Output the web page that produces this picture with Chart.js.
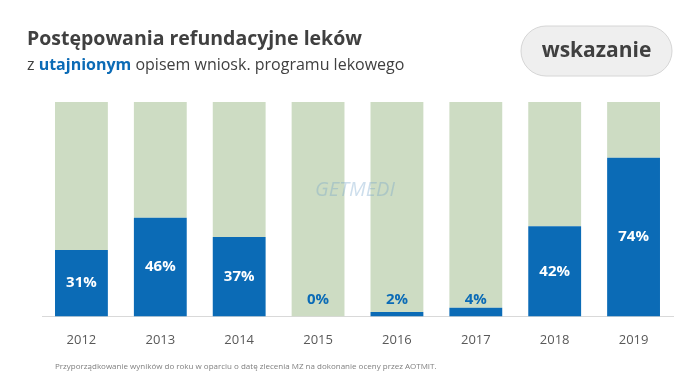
<!DOCTYPE html>
<html>
<head>
<meta charset="utf-8">
<script src="https://cdn.jsdelivr.net/npm/chart.js@4"></script>
<style>
  html, body { margin: 0; padding: 0; background: #fff; }
  #wrap { width: 700px; height: 389px; position: relative; }
</style>
</head>
<body>
<div id="wrap"><canvas id="js--chart"></canvas></div>
<script>
const years = ['2012', '2013', '2014', '2015', '2016', '2017', '2018', '2019'];
const shares = [31, 46, 37, 0, 2, 4, 42, 74];
const rest = shares.map(v => 100 - v);

const blue = '#0b6bb6';
const green = '#cddcc3';
const font = '"Open Sans", "DejaVu Sans", sans-serif';

// everything drawn around the plot: titles, badge, watermark, note
const extras = {
    id: 'extras',
    beforeDraw(chart) {
        const c = chart.ctx;
        c.save();
        c.fillStyle = '#fff';
        c.fillRect(0, 0, chart.width, chart.height);
        c.restore();
    },
    afterDatasetsDraw(chart) {
        const c = chart.ctx;
        c.save();
        c.textBaseline = 'alphabetic';
        c.textAlign = 'left';
        c.fillStyle = '#404040';
        c.font = 'bold 19.5px ' + font;
        c.fillText('Postępowania refundacyjne leków', 27, 45);

        c.font = '16px ' + font;
        let x = 27;
        c.fillStyle = '#404040';
        c.fillText('z ', x, 70);
        x += c.measureText('z ').width;
        c.font = 'bold 16px ' + font;
        c.fillStyle = blue;
        c.fillText('utajnionym', x, 70);
        x += c.measureText('utajnionym ').width;
        c.font = '16px ' + font;
        c.fillStyle = '#404040';
        c.fillText('opisem wniosk. programu lekowego', x, 70);

        // badge
        c.beginPath();
        c.roundRect(521, 26, 151, 50, 25);
        c.fillStyle = '#efefef';
        c.fill();
        c.strokeStyle = '#d6d6d6';
        c.lineWidth = 1;
        c.stroke();
        c.fillStyle = '#404040';
        c.font = 'bold 21px ' + font;
        c.textAlign = 'center';
        c.textBaseline = 'middle';
        c.fillText('wskazanie', 596.5, 51);

        // watermark
        c.globalAlpha = 0.35;
        c.font = 'italic 20px ' + font;
        c.fillStyle = '#6fa0c8';
        c.fillText('GETMEDI', 355, 190);
        c.globalAlpha = 1;

        // value labels
        const meta = chart.getDatasetMeta(0);
        const bottom = chart.chartArea.bottom;
        c.font = 'bold 15px ' + font;
        meta.data.forEach((bar, i) => {
            const v = shares[i];
            if (v >= 10) {
                c.fillStyle = '#fff';
                c.fillText(v + '%', bar.x, (bar.y + bottom) / 2);
            } else {
                c.fillStyle = blue;
                c.fillText(v + '%', bar.x, bottom - 17);
            }
        });

        // footnote
        c.font = '8px ' + font;
        c.fillStyle = '#7f7f7f';
        c.textAlign = 'left';
        c.fillText('Przyporządkowanie wyników do roku w oparciu o datę zlecenia MZ na dokonanie oceny przez AOTMIT.', 55, 367);
        c.restore();
    }
};

new Chart(document.getElementById('js--chart'), {
    type: 'bar',
    data: {
        labels: years,
        datasets: [{
            data: shares,
            backgroundColor: blue,
            barPercentage: 1,
            categoryPercentage: 0.67
        }, {
            data: rest,
            backgroundColor: green,
            barPercentage: 1,
            categoryPercentage: 0.67
        }]
    },
    options: {
        responsive: true,
        maintainAspectRatio: false,
        animation: false,
        layout: { padding: { left: 42, right: 27, top: 102, bottom: 33 } },
        plugins: { legend: { display: false }, tooltip: { enabled: false } },
        scales: {
            x: {
                stacked: true,
                grid: { display: false },
                border: { color: '#d9d9d9', width: 1 },
                ticks: { color: '#595959', font: { family: font, size: 13 }, padding: 8 }
            },
            y: {
                stacked: true,
                display: false,
                min: 0,
                max: 100
            }
        }
    },
    plugins: [extras]
});
</script>
</body>
</html>
